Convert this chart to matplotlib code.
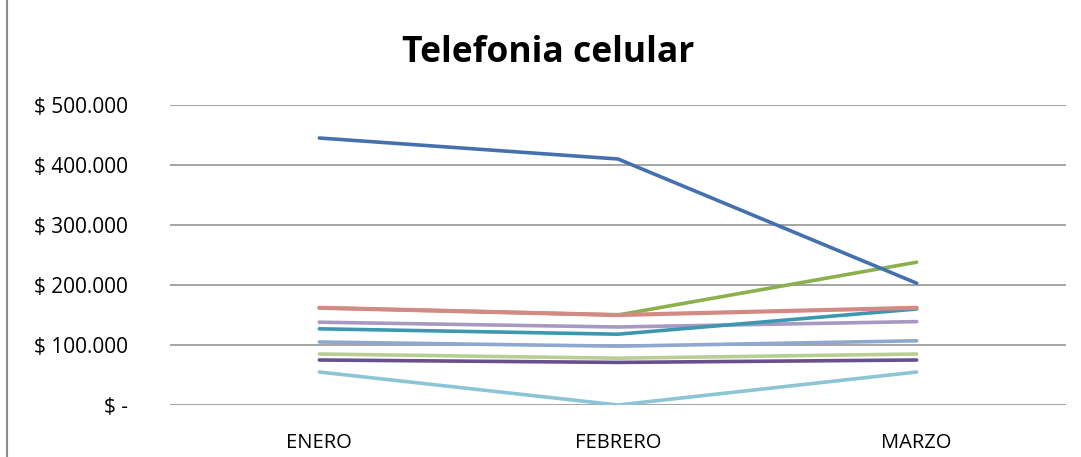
import matplotlib.pyplot as plt
from matplotlib.lines import Line2D

months = ["ENERO", "FEBRERO", "MARZO"]

# series values (pesos)
serie_azul = [445000, 410000, 203000]
serie_roja = [162000, 150000, 162000]
serie_verde = [162000, 150000, 238000]
serie_lila = [138000, 130000, 139000]
serie_turquesa = [127000, 118000, 160000]
serie_celeste = [105000, 98000, 107000]
serie_verde_claro = [85000, 78000, 85000]
serie_morado = [75000, 71000, 75000]
serie_cian = [55000, 0, 55000]

y_ticks = [0, 100000, 200000, 300000, 400000, 500000]
y_labels = ["$ -", "$ 100.000", "$ 200.000", "$ 300.000", "$ 400.000", "$ 500.000"]

plt.rcParams["font.family"] = ["Open Sans", "DejaVu Sans"]

fig = plt.figure(figsize=(10.81, 4.57), dpi=100)
ax = fig.add_axes([170 / 1081, 52 / 457, 896 / 1081, 300 / 457])

x = range(len(months))
# drawn bottom-up so overlaps match the original
ax.plot(x, serie_cian, color="#8CC5D6", lw=2.6, solid_capstyle="round")
ax.plot(x, serie_morado, color="#67508C", lw=2.6, solid_capstyle="round")
ax.plot(x, serie_verde_claro, color="#B7CF93", lw=2.6, solid_capstyle="round")
ax.plot(x, serie_celeste, color="#8FA8D1", lw=2.6, solid_capstyle="round")
ax.plot(x, serie_lila, color="#A898C2", lw=2.6, solid_capstyle="round")
ax.plot(x, serie_turquesa, color="#3B98B0", lw=2.6, solid_capstyle="round")
ax.plot(x, serie_verde, color="#8BB04C", lw=2.6, solid_capstyle="round")
ax.plot(x, serie_roja, color="#D48A84", lw=3.0, solid_capstyle="round")
ax.plot(x, serie_azul, color="#4471AE", lw=2.6, solid_capstyle="round")

ax.set_xlim(-0.5, 2.5)
ax.set_ylim(0, 500000)
ax.set_xticks(list(x))
ax.set_xticklabels(months, fontsize=14.5)
ax.set_yticks(y_ticks)
ax.set_yticklabels(y_labels, fontsize=15)
ax.tick_params(length=0)
ax.tick_params(axis="y", pad=30)
ax.tick_params(axis="x", pad=20)
ax.grid(axis="y", color="#8C8C8C", lw=1.1)
ax.set_axisbelow(True)
for s in ax.spines.values():
    s.set_visible(False)

fig.text(548 / 1081, 0.883, "Telefonia celular", ha="center", va="center",
         fontsize=25.5, fontweight="bold")

# chart-area border on the left edge
fig.add_artist(Line2D([7.5 / 1081, 7.5 / 1081], [0, 1], color="#8C8C8C", lw=1.5))

fig.savefig("out.png", dpi=100)
